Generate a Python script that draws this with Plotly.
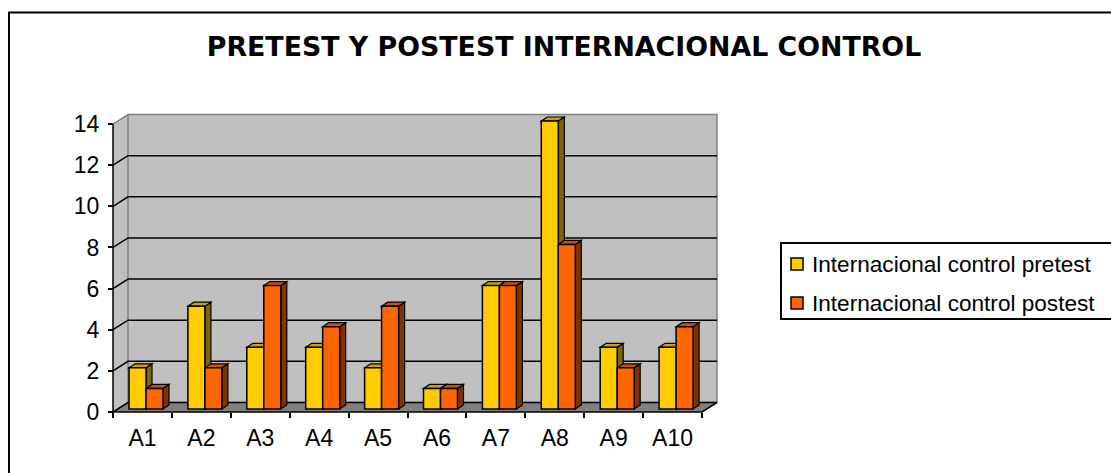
import plotly.graph_objects as go

# ---- data -------------------------------------------------------------
categories = ["A1", "A2", "A3", "A4", "A5", "A6", "A7", "A8", "A9", "A10"]
pretest = [2, 5, 3, 3, 2, 1, 6, 14, 3, 3]
postest = [1, 2, 6, 4, 5, 1, 6, 8, 2, 4]
y_ticks = [0, 2, 4, 6, 8, 10, 12, 14]
series_names = ["Internacional control pretest", "Internacional control postest"]
chart_title = "PRETEST Y POSTEST INTERNACIONAL CONTROL"

# ---- figure geometry (pixels) -----------------------------------------
W, H = 1111, 473
ML, MR, MT, MB = 105, 386, 105, 53
PW, PH = W - ML - MR, H - MT - MB
UX, UY = 58.9, 20.57          # pixels per category / per value unit
AX_X, AX_Y = 113, 412         # front-left-bottom corner of the 3D box

X0 = -0.5
X1 = X0 + len(categories)
YMAX = y_ticks[-1]
XR = [X0 - (AX_X - ML) / UX, X0 + (W - MR - AX_X) / UX]
YR = [-(H - MB - AX_Y) / UY, (AX_Y - MT) / UY]

WALL_DX, WALL_DY = 15 / UX, 9.5 / UY   # depth of the floor / side wall
BAR_W = 17 / UX
BAR_START = -0.5 + 16 / UX
BAR_LIFT = 3 / UY
FACE_DX, FACE_DY = 6 / UX, 4 / UY      # depth of each bar

FONT = "Liberation Sans, Arial, sans-serif"
WALL = "#C0C0C0"
FLOOR = "#808080"
EDGE = "#808080"

styles = [
    dict(front="#FFCC00", side="#806600", top="#CCA300"),
    dict(front="#FF6600", side="#803300", top="#CC5200"),
]


def paper_x(p):
    return (p - ML) / PW


def paper_y(p):
    return (H - MB - p) / PH


def poly(points):
    return "M " + " L ".join(f"{x},{y}" for x, y in points) + " Z"


def polyline(points):
    return "M " + " L ".join(f"{x},{y}" for x, y in points)


shapes = []
# side wall, back wall and floor of the 3D box
shapes.append(dict(type="path", layer="below", xref="x", yref="y",
                   path=poly([(X0, 0), (X0 + WALL_DX, WALL_DY),
                              (X0 + WALL_DX, YMAX + WALL_DY), (X0, YMAX)]),
                   fillcolor=WALL, line=dict(width=0)))
shapes.append(dict(type="rect", layer="below", xref="x", yref="y",
                   x0=X0 + WALL_DX, y0=WALL_DY, x1=X1 + WALL_DX, y1=YMAX + WALL_DY,
                   fillcolor=WALL, line=dict(color=EDGE, width=1.5)))
shapes.append(dict(type="path", layer="below", xref="x", yref="y",
                   path=poly([(X0, 0), (X0 + WALL_DX, WALL_DY),
                              (X1 + WALL_DX, WALL_DY), (X1, 0)]),
                   fillcolor=FLOOR, line=dict(width=0)))
# gridlines running along side wall and back wall
for v in y_ticks[:-1]:
    shapes.append(dict(type="path", layer="below", xref="x", yref="y",
                       path=polyline([(X0, v), (X0 + WALL_DX, v + WALL_DY),
                                      (X1 + WALL_DX, v + WALL_DY)]),
                       line=dict(color="black", width=1.5)))
shapes.append(dict(type="line", layer="below", xref="x", yref="y",
                   x0=X0, y0=YMAX, x1=X0 + WALL_DX, y1=YMAX + WALL_DY,
                   line=dict(color=EDGE, width=1.5)))
# front edges: value axis and category axis
shapes.append(dict(type="line", layer="below", xref="x", yref="y",
                   x0=X0, y0=0, x1=X0, y1=YMAX, line=dict(color="black", width=1.5)))
shapes.append(dict(type="path", layer="below", xref="x", yref="y",
                   path=polyline([(X0, 0), (X1, 0), (X1 + WALL_DX, WALL_DY)]),
                   line=dict(color="black", width=1.5)))

# depth faces of the bars (sides first, then tops)
side_shapes, top_shapes = [], []
for s, vals in enumerate([pretest, postest]):
    off = BAR_START + s * BAR_W
    for i, v in enumerate(vals):
        left = i + off
        right = left + BAR_W
        bot = BAR_LIFT
        top = v + BAR_LIFT
        side_shapes.append(dict(type="path", layer="below", xref="x", yref="y",
                                path=poly([(right, bot), (right + FACE_DX, bot + FACE_DY),
                                           (right + FACE_DX, top + FACE_DY), (right, top)]),
                                fillcolor=styles[s]["side"], line=dict(color="black", width=1.2)))
        top_shapes.append(dict(type="path", layer="below", xref="x", yref="y",
                               path=poly([(left, top), (left + FACE_DX, top + FACE_DY),
                                          (right + FACE_DX, top + FACE_DY), (right, top)]),
                               fillcolor=styles[s]["top"], line=dict(color="black", width=1.2)))
shapes += side_shapes + top_shapes

# outer chart frame (right and bottom sides run past the page edge)
FRAME_L, FRAME_T = 9, 12.5
shapes.append(dict(type="path", xref="paper", yref="paper",
                   path=polyline([(paper_x(FRAME_L), paper_y(H + 20)),
                                  (paper_x(FRAME_L), paper_y(FRAME_T)),
                                  (paper_x(W + 20), paper_y(FRAME_T))]),
                   line=dict(color="black", width=2)))

# legend box (open on the right, where it runs past the page edge)
LEG_LEFT, LEG_TOP, LEG_BOTTOM = 781, 243, 319
LEG_ROWS = [264, 303]
LEG_SYM_X, LEG_SYM = 797, 12
LEG_TEXT_X = 810
shapes.append(dict(type="rect", xref="paper", yref="paper",
                   x0=paper_x(LEG_LEFT), y0=paper_y(LEG_BOTTOM),
                   x1=paper_x(W + 20), y1=paper_y(LEG_TOP),
                   fillcolor="white", line=dict(width=0)))
shapes.append(dict(type="path", xref="paper", yref="paper",
                   path=polyline([(paper_x(W + 20), paper_y(LEG_TOP)),
                                  (paper_x(LEG_LEFT), paper_y(LEG_TOP)),
                                  (paper_x(LEG_LEFT), paper_y(LEG_BOTTOM)),
                                  (paper_x(W + 20), paper_y(LEG_BOTTOM))]),
                   line=dict(color="black", width=2)))
annotations = []
for s, name in enumerate(series_names):
    cy = LEG_ROWS[s]
    shapes.append(dict(type="rect", xref="paper", yref="paper",
                       x0=paper_x(LEG_SYM_X - LEG_SYM / 2), x1=paper_x(LEG_SYM_X + LEG_SYM / 2),
                       y0=paper_y(cy + LEG_SYM / 2), y1=paper_y(cy - LEG_SYM / 2),
                       fillcolor=styles[s]["front"], line=dict(color="black", width=1.5)))
    annotations.append(dict(xref="paper", yref="paper", x=paper_x(LEG_TEXT_X), y=paper_y(cy),
                            xanchor="left", yanchor="middle", showarrow=False, text=name,
                            font=dict(family=FONT, size=22.6, color="black")))

fig = go.Figure()
for s, (name, vals) in enumerate(zip(series_names, [pretest, postest])):
    fig.add_trace(go.Bar(
        x=categories, y=vals, base=BAR_LIFT, name=name,
        offset=BAR_START + s * BAR_W, width=BAR_W,
        marker=dict(color=styles[s]["front"], line=dict(color="black", width=1.5)),
        showlegend=False, hoverinfo="x+y",
    ))

fig.update_layout(
    width=W, height=H,
    margin=dict(l=ML, r=MR, t=MT, b=MB, pad=0),
    paper_bgcolor="white", plot_bgcolor="rgba(0,0,0,0)",
    barmode="overlay", showlegend=False,
    title=dict(text=chart_title, x=564 / W, y=1 - 47 / H, xanchor="center", yanchor="middle",
               xref="container", yref="container",
               font=dict(family="DejaVu Sans", size=26.8, color="black", weight="bold")),
    xaxis=dict(type="category", range=XR, tickson="boundaries", ticks="outside",
               ticklen=5, tickwidth=1.5, tickcolor="black", showgrid=False,
               zeroline=False, showline=False, anchor="free",
               position=(H - MB - AX_Y) / PH, ticklabelstandoff=10,
               tickfont=dict(family=FONT, size=23, color="black")),
    yaxis=dict(range=YR, tickmode="array", tickvals=y_ticks, ticks="outside",
               ticklen=5, tickwidth=1.5, tickcolor="black", showgrid=False,
               zeroline=False, showline=False, anchor="free",
               position=(AX_X - ML) / PW, ticklabelstandoff=4,
               tickfont=dict(family=FONT, size=23, color="black")),
    shapes=shapes, annotations=annotations,
)

fig.write_html("out.html")
